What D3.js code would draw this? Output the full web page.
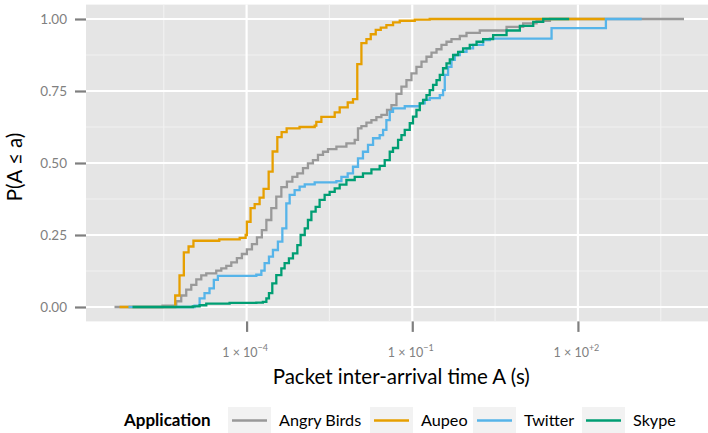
<!DOCTYPE html>
<html>
<head>
<meta charset="utf-8">
<script src="https://cdn.jsdelivr.net/npm/d3@7"></script>
<style>
  body { margin: 0; background: #fff; }
  svg { display: block; }
  text { font-family: Lato, "Open Sans", sans-serif; }
</style>
</head>
<body>
<svg id="chart" width="708" height="433"></svg>
<script>
// ---------------- data ----------------
const seriesNames = ["Angry Birds", "Aupeo", "Twitter", "Skype"];
const seriesColors = ["#999999", "#E69F00", "#56B4E9", "#009E73"];

const angryBirdsX = [4.05e-7, 3.0e-6, 5.32e-6, 6.55e-6, 8.07e-6, 9.95e-6, 1.23e-5, 1.51e-5, 1.86e-5, 2.82e-5,
  3.48e-5, 4.29e-5, 5.28e-5, 6.67e-5, 8.22e-5, 1.01e-4, 1.25e-4, 1.54e-4, 1.89e-4, 2.28e-4,
  2.80e-4, 3.45e-4, 4.26e-4, 5.37e-4, 6.74e-4, 8.30e-4, 1.05e-3, 1.29e-3, 1.59e-3, 1.96e-3,
  2.42e-3, 2.98e-3, 4.23e-3, 6.42e-3, 9.07e-3, 1.04e-2, 1.20e-2, 1.48e-2, 1.82e-2, 2.24e-2,
  2.76e-2, 3.49e-2, 4.20e-2, 5.17e-2, 6.37e-2, 7.85e-2, 9.67e-2, 0.119, 0.147, 0.181,
  0.223, 0.275, 0.338, 0.417, 0.513, 0.726, 0.960, 1.67, 5.10, 10.2,
  17.8, 31.1, 8340];
const angryBirdsP = [0, 0.005, 0.02, 0.04, 0.06, 0.077, 0.096, 0.11, 0.117, 0.126,
  0.134, 0.143, 0.155, 0.17, 0.184, 0.2, 0.218, 0.242, 0.267, 0.302,
  0.343, 0.383, 0.416, 0.435, 0.452, 0.464, 0.482, 0.499, 0.51, 0.528,
  0.539, 0.548, 0.557, 0.568, 0.58, 0.62, 0.628, 0.64, 0.649, 0.659,
  0.667, 0.684, 0.701, 0.74, 0.765, 0.788, 0.811, 0.834, 0.852, 0.869,
  0.883, 0.895, 0.91, 0.921, 0.93, 0.941, 0.952, 0.96, 0.973, 0.985,
  0.994, 1.0, 1.0];

const aupeoX = [5.0e-7, 5.1e-6, 6.1e-6, 7.3e-6, 8.9e-6, 1.09e-5, 3.2e-5, 7.5e-5, 9.6e-5, 1.01e-4,
  1.18e-4, 1.40e-4, 1.72e-4, 2.03e-4, 2.51e-4, 2.96e-4, 3.60e-4, 4.31e-4, 5.31e-4, 9.1e-4,
  1.71e-3, 1.83e-3, 2.26e-3, 3.94e-3, 4.85e-3, 6.78e-3, 8.45e-3, 1.01e-2, 1.20e-2, 1.48e-2,
  1.77e-2, 2.18e-2, 2.69e-2, 3.40e-2, 4.49e-2, 5.93e-2, 0.111, 0.207, 308];
const aupeoP = [0, 0.04, 0.11, 0.19, 0.21, 0.23, 0.235, 0.24, 0.25, 0.296,
  0.343, 0.357, 0.38, 0.41, 0.47, 0.54, 0.59, 0.607, 0.62, 0.625,
  0.63, 0.643, 0.66, 0.676, 0.693, 0.71, 0.722, 0.843, 0.916, 0.93,
  0.947, 0.962, 0.97, 0.979, 0.988, 0.994, 0.998, 1.0, 1.0];

const twitterX = [7.26e-7, 1.14e-5, 1.41e-5, 1.73e-5, 2.13e-5, 2.55e-5, 3.02e-5, 1.50e-4, 1.85e-4, 2.12e-4,
  2.54e-4, 3.00e-4, 3.69e-4, 4.44e-4, 5.24e-4, 6.02e-4, 7.41e-4, 9.13e-4, 1.13e-3, 1.71e-3,
  4.23e-3, 5.21e-3, 6.77e-3, 8.45e-3, 1.04e-2, 1.28e-2, 1.58e-2, 1.95e-2, 2.57e-2, 2.96e-2,
  3.40e-2, 3.91e-2, 4.48e-2, 7.31e-2, 0.137, 0.168, 0.207, 0.315, 0.361, 0.388,
  0.445, 0.513, 0.589, 0.726, 0.960, 1.26, 1.92, 2.54, 33.3, 321,
  1430];
const twitterP = [0, 0.005, 0.03, 0.048, 0.065, 0.094, 0.108, 0.112, 0.126, 0.152,
  0.175, 0.198, 0.227, 0.273, 0.36, 0.389, 0.406, 0.418, 0.426, 0.433,
  0.437, 0.452, 0.464, 0.487, 0.516, 0.539, 0.563, 0.586, 0.597, 0.615,
  0.649, 0.678, 0.69, 0.697, 0.707, 0.719, 0.725, 0.736, 0.753, 0.806,
  0.834, 0.858, 0.875, 0.886, 0.898, 0.91, 0.927, 0.932, 0.968, 1.0,
  1.0];

const skypeX = [8.58e-7, 1.06e-5, 1.41e-5, 1.86e-5, 4.92e-5, 1.50e-4, 1.97e-4, 2.28e-4, 2.54e-4, 2.92e-4,
  3.45e-4, 4.26e-4, 4.88e-4, 5.84e-4, 6.91e-4, 8.30e-4, 9.52e-4, 1.13e-3, 1.29e-3, 1.49e-3,
  1.78e-3, 2.10e-3, 2.59e-3, 3.19e-3, 3.94e-3, 4.85e-3, 6.42e-3, 9.07e-3, 1.28e-2, 1.82e-2,
  2.57e-2, 3.17e-2, 3.91e-2, 4.48e-2, 5.53e-2, 6.37e-2, 7.31e-2, 9.01e-2, 0.103, 0.119,
  0.137, 0.157, 0.181, 0.207, 0.238, 0.275, 0.315, 0.361, 0.417, 0.478,
  0.549, 0.676, 0.833, 1.10, 1.46, 1.92, 2.91, 5.10, 8.88, 15.5,
  23.5, 69.5];
const skypeP = [0, 0.002, 0.006, 0.012, 0.014, 0.015, 0.018, 0.03, 0.048, 0.082,
  0.111, 0.134, 0.152, 0.169, 0.186, 0.215, 0.25, 0.273, 0.302, 0.331,
  0.348, 0.372, 0.389, 0.4, 0.412, 0.425, 0.441, 0.452, 0.464, 0.478,
  0.49, 0.51, 0.539, 0.552, 0.58, 0.597, 0.615, 0.638, 0.661, 0.684,
  0.707, 0.719, 0.736, 0.753, 0.771, 0.788, 0.806, 0.829, 0.846, 0.86,
  0.875, 0.886, 0.898, 0.91, 0.921, 0.93, 0.944, 0.96, 0.976, 0.99,
  1.0, 1.0];

const yBreaks = [0, 0.25, 0.5, 0.75, 1.0];
const yMinorBreaks = [0.125, 0.375, 0.625, 0.875];
const xBreaks = [1e-4, 1e-1, 1e2];
const xMinorBreaks = [3.162e-6, 3.162e-3, 3.162, 3162];
const xTickBase = "1 × 10";
const xTickExponents = ["−4", "−1", "+2"];
const xTitle = "Packet inter-arrival time A (s)";
const yTitle = "P(A ≤ a)";
const legendTitle = "Application";

// ---------------- build ----------------
const seriesX = [angryBirdsX, aupeoX, twitterX, skypeX];
const seriesP = [angryBirdsP, aupeoP, twitterP, skypeP];
const series = seriesNames.map((name, i) => ({
  name, color: seriesColors[i],
  values: seriesX[i].map((v, j) => ({ x: v, p: seriesP[i][j] }))
}));

const panel = { left: 86, right: 712.5, top: 4.6, bottom: 321.4 };

const logExt = d3.extent(seriesX.flat().map(Math.log10));
const lpad = (logExt[1] - logExt[0]) * 0.05;
const x = d3.scaleLog()
  .domain([Math.pow(10, logExt[0] - lpad), Math.pow(10, logExt[1] + lpad)])
  .range([panel.left, panel.right]);
const y = d3.scaleLinear().domain([-0.05, 1.05]).range([panel.bottom, panel.top]);

const svg = d3.select("#chart");

svg.append("defs").append("clipPath").attr("id", "clip")
  .append("rect")
  .attr("x", panel.left).attr("y", panel.top)
  .attr("width", panel.right - panel.left).attr("height", panel.bottom - panel.top);

svg.append("rect")
  .attr("x", panel.left).attr("y", panel.top)
  .attr("width", panel.right - panel.left).attr("height", panel.bottom - panel.top)
  .attr("fill", "#E5E5E5");

const grid = svg.append("g");
grid.selectAll(".ymin").data(yMinorBreaks).join("line")
  .attr("x1", panel.left).attr("x2", panel.right)
  .attr("y1", d => y(d)).attr("y2", d => y(d))
  .attr("stroke", "#F2F2F2").attr("stroke-width", 1.1);
grid.selectAll(".xmin").data(xMinorBreaks).join("line")
  .attr("y1", panel.top).attr("y2", panel.bottom)
  .attr("x1", d => x(d)).attr("x2", d => x(d))
  .attr("stroke", "#F2F2F2").attr("stroke-width", 1.1);
grid.selectAll(".ymaj").data(yBreaks).join("line")
  .attr("x1", panel.left).attr("x2", panel.right)
  .attr("y1", d => y(d)).attr("y2", d => y(d))
  .attr("stroke", "#FFFFFF").attr("stroke-width", 2.2);
grid.selectAll(".xmaj").data(xBreaks).join("line")
  .attr("y1", panel.top).attr("y2", panel.bottom)
  .attr("x1", d => x(d)).attr("x2", d => x(d))
  .attr("stroke", "#FFFFFF").attr("stroke-width", 2.2);

const line = d3.line()
  .x(d => x(d.x)).y(d => y(d.p))
  .curve(d3.curveStepAfter);

svg.append("g").attr("clip-path", "url(#clip)")
  .selectAll("path").data(series).join("path")
  .attr("d", d => line(d.values))
  .attr("fill", "none")
  .attr("stroke", d => d.color)
  .attr("stroke-width", 2.3)
  .attr("stroke-linejoin", "miter")
  .attr("stroke-linecap", "butt");

// y axis
const yAxis = svg.append("g").attr("transform", `translate(${panel.left},0)`)
  .call(d3.axisLeft(y).tickValues(yBreaks).tickFormat(d3.format(".2f")).tickSize(11).tickPadding(8));
yAxis.select(".domain").remove();
yAxis.selectAll(".tick line").attr("stroke", "#7F7F7F").attr("stroke-width", 2.2);
yAxis.selectAll(".tick text").attr("fill", "#808080").attr("font-size", 13.5)
  .style("font-family", "Lato, sans-serif");

// x axis
const xAxis = svg.append("g").attr("transform", `translate(0,${panel.bottom})`)
  .call(d3.axisBottom(x).tickValues(xBreaks).tickFormat(() => "").tickSize(10.5));
xAxis.select(".domain").remove();
xAxis.selectAll(".tick line").attr("stroke", "#7F7F7F").attr("stroke-width", 2.2);
xAxis.selectAll(".tick text").remove();
xAxis.selectAll(".tick").each(function(d, i) {
  const t = d3.select(this).append("text")
    .attr("x", -2).attr("y", 35.5)
    .attr("text-anchor", "middle")
    .attr("fill", "#808080")
    .attr("font-size", 12.5)
    .text(xTickBase);
  t.append("tspan").attr("dy", -6).attr("font-size", 9).text(xTickExponents[i]);
});

// axis titles
svg.append("text")
  .attr("x", (panel.left + panel.right) / 2 + 2).attr("y", 384)
  .attr("text-anchor", "middle")
  .attr("font-size", 20.5).attr("fill", "#000")
  .text(xTitle);

svg.append("text")
  .attr("transform", `translate(22, ${(panel.top + panel.bottom) / 2 + 4}) rotate(-90)`)
  .attr("text-anchor", "middle")
  .attr("font-size", 20.5).attr("fill", "#000")
  .text(yTitle);

// legend
const legend = svg.append("g");
legend.append("text")
  .attr("x", 124).attr("y", 426)
  .attr("font-size", 17).attr("font-weight", "bold").attr("fill", "#000")
  .text(legendTitle);

const keyX = [228, 370, 473, 582];
const keyW = 43, keyTop = 407, keyH = 27;
series.forEach((s, i) => {
  const g = legend.append("g");
  g.append("rect")
    .attr("x", keyX[i]).attr("y", keyTop).attr("width", keyW).attr("height", keyH)
    .attr("fill", "#F2F2F2");
  g.append("line")
    .attr("x1", keyX[i] + 4).attr("x2", keyX[i] + keyW - 4)
    .attr("y1", keyTop + 13.5).attr("y2", keyTop + 13.5)
    .attr("stroke", s.color).attr("stroke-width", 2.6);
  g.append("text")
    .attr("x", keyX[i] + keyW + 8).attr("y", 426)
    .attr("font-size", 16.2).attr("fill", "#000")
    .text(s.name);
});
</script>
</body>
</html>
